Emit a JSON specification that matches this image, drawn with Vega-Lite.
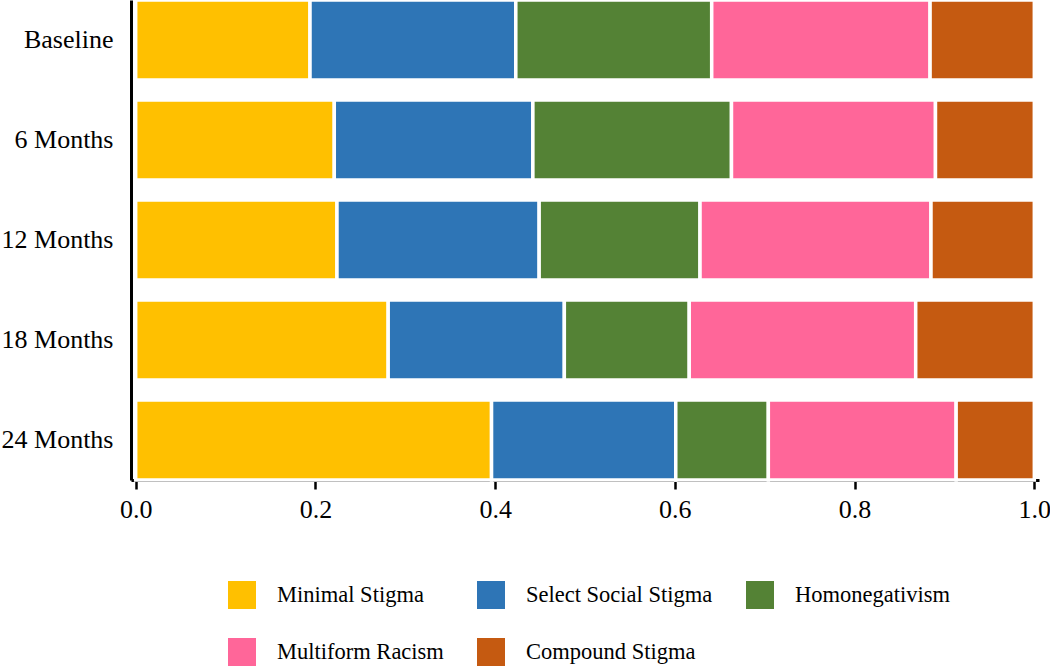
{
  "$schema": "https://vega.github.io/schema/vega-lite/v6.json",
  "width": 908,
  "height": 480,
  "autosize": {"type": "none"},
  "padding": {"left": 131, "top": 0, "right": 11, "bottom": 191},
  "background": "white",
  "config": {
    "view": {"stroke": null},
    "font": "Liberation Serif"
  },
  "data": {
    "values": [
      {"time": "Baseline", "cat": "Minimal Stigma", "ord": 1, "value": 0.194},
      {"time": "Baseline", "cat": "Select Social Stigma", "ord": 2, "value": 0.229},
      {"time": "Baseline", "cat": "Homonegativism", "ord": 3, "value": 0.218},
      {"time": "Baseline", "cat": "Multiform Racism", "ord": 4, "value": 0.243},
      {"time": "Baseline", "cat": "Compound Stigma", "ord": 5, "value": 0.116},
      {"time": "6 Months", "cat": "Minimal Stigma", "ord": 1, "value": 0.221},
      {"time": "6 Months", "cat": "Select Social Stigma", "ord": 2, "value": 0.221},
      {"time": "6 Months", "cat": "Homonegativism", "ord": 3, "value": 0.221},
      {"time": "6 Months", "cat": "Multiform Racism", "ord": 4, "value": 0.227},
      {"time": "6 Months", "cat": "Compound Stigma", "ord": 5, "value": 0.110},
      {"time": "12 Months", "cat": "Minimal Stigma", "ord": 1, "value": 0.224},
      {"time": "12 Months", "cat": "Select Social Stigma", "ord": 2, "value": 0.225},
      {"time": "12 Months", "cat": "Homonegativism", "ord": 3, "value": 0.179},
      {"time": "12 Months", "cat": "Multiform Racism", "ord": 4, "value": 0.257},
      {"time": "12 Months", "cat": "Compound Stigma", "ord": 5, "value": 0.115},
      {"time": "18 Months", "cat": "Minimal Stigma", "ord": 1, "value": 0.281},
      {"time": "18 Months", "cat": "Select Social Stigma", "ord": 2, "value": 0.196},
      {"time": "18 Months", "cat": "Homonegativism", "ord": 3, "value": 0.139},
      {"time": "18 Months", "cat": "Multiform Racism", "ord": 4, "value": 0.252},
      {"time": "18 Months", "cat": "Compound Stigma", "ord": 5, "value": 0.132},
      {"time": "24 Months", "cat": "Minimal Stigma", "ord": 1, "value": 0.396},
      {"time": "24 Months", "cat": "Select Social Stigma", "ord": 2, "value": 0.205},
      {"time": "24 Months", "cat": "Homonegativism", "ord": 3, "value": 0.103},
      {"time": "24 Months", "cat": "Multiform Racism", "ord": 4, "value": 0.209},
      {"time": "24 Months", "cat": "Compound Stigma", "ord": 5, "value": 0.087}
    ]
  },
  "mark": {"type": "bar", "stroke": "white", "strokeWidth": 3.5},
  "encoding": {
    "y": {
      "field": "time",
      "type": "nominal",
      "sort": ["Baseline", "6 Months", "12 Months", "18 Months", "24 Months"],
      "scale": {"paddingInner": 0.2, "paddingOuter": 0},
      "axis": {
        "title": null,
        "domainColor": "black",
        "domainWidth": 3,
        "ticks": false,
        "tickSize": 0,
        "labelPadding": 18,
        "labelFontSize": 26,
        "labelColor": "black",
        "labelFont": "Liberation Serif"
      }
    },
    "x": {
      "field": "value",
      "type": "quantitative",
      "stack": "zero",
      "scale": {"domain": [-0.0052, 1.0052], "nice": false, "zero": false},
      "axis": {
        "title": null,
        "values": [0, 0.2, 0.4, 0.6, 0.8, 1.0],
        "format": ".1f",
        "grid": false,
        "domainColor": "black",
        "domainWidth": 3,
        "tickColor": "black",
        "tickWidth": 2.5,
        "tickSize": 9,
        "labelPadding": 7,
        "labelFontSize": 26,
        "labelColor": "black",
        "labelFont": "Liberation Serif",
        "labelFlush": false
      }
    },
    "color": {
      "field": "cat",
      "type": "nominal",
      "scale": {
        "domain": ["Minimal Stigma", "Select Social Stigma", "Homonegativism", "Multiform Racism", "Compound Stigma"],
        "range": ["#FFC000", "#2E75B6", "#548235", "#FF6699", "#C55A11"]
      },
      "legend": {
        "title": null,
        "orient": "none",
        "legendX": 97,
        "legendY": 581,
        "direction": "horizontal",
        "columns": 3,
        "symbolType": "square",
        "symbolSize": 784,
        "symbolStrokeWidth": 0,
        "symbolOpacity": 1,
        "labelFontSize": 22.5,
        "labelFont": "Liberation Serif",
        "labelColor": "black",
        "labelOffset": 21,
        "columnPadding": 33,
        "rowPadding": 29,
        "padding": 0,
        "labelLimit": 400
      }
    },
    "order": {"field": "ord", "type": "quantitative"}
  }
}
